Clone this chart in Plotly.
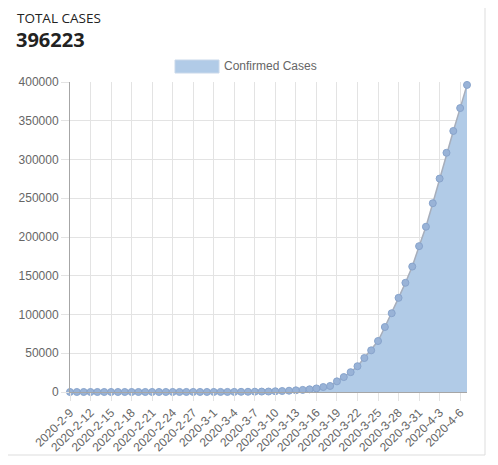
#########################################
# Total confirmed cases, cumulative area #
#########################################

import datetime as dt
import plotly.graph_objects as go

# dates shown on the category axis (2020-2-9 .. 2020-4-7)
start = dt.date(2020, 2, 9)
dates = []
for i in range(59):
    d = start + dt.timedelta(days=i)
    dates.append(f"{d.year}-{d.month}-{d.day}")

# cumulative confirmed cases
cases = [
    12, 12, 12, 13, 13, 14, 14, 14, 14, 14, 14, 14,          # 2-9 .. 2-20
    35, 35, 35, 53, 53, 59, 60, 62, 70,                      # 2-21 .. 2-29
    76, 101, 122, 153, 221, 278, 417, 537, 605, 959,         # 3-1 .. 3-10
    1281, 1663, 2179, 2726, 3499, 4632, 6421, 7783,          # 3-11 .. 3-18
    13747, 19273, 25600, 33276, 43847, 53740, 65778,         # 3-19 .. 3-25
    83836, 101657, 121465, 140909, 161831, 188172,           # 3-26 .. 3-31
    213242, 243622, 275367, 308650, 336802, 366317, 396223,  # 4-1 .. 4-7
]

y_ticks = [0, 50000, 100000, 150000, 200000, 250000, 300000, 350000, 400000]
total = cases[-1]

# page geometry (pixels in the window); the page body adds an 8px margin
OFF = 8
W, H = 498 - OFF, 465 - OFF
L, R, T, B = 70, 467, 82, 392

def px(x):
    return (x - L) / (R - L)

def py(y):
    return (B - y) / (B - T)

fig = go.Figure()
fig.add_trace(go.Scatter(
    x=dates, y=cases, mode='lines+markers',
    fill='tozeroy', fillcolor='#b1cbe7',
    line=dict(color='#a7aebb', width=1.5),
    marker=dict(size=7, color='#99b3d7', line=dict(color='#88a4cc', width=1)),
    cliponaxis=False, showlegend=False,
    hovertemplate='%{x}<br>%{y}<extra>Confirmed Cases</extra>'))

tick_font = dict(family='Liberation Sans, Arial', size=12, color='#666666')

fig.update_xaxes(
    type='category', range=[0, len(dates) - 1],
    tickvals=dates[::3], ticktext=dates[::3], tickangle=-45,
    tickfont=tick_font, showgrid=True, gridcolor='#e3e3e3', gridwidth=1,
    ticks='outside', ticklen=8, tickcolor='#e3e3e3',
    showline=True, linecolor='#a6a6a6', linewidth=1, zeroline=False)
fig.update_yaxes(
    range=[0, 400000], tickvals=y_ticks, tickformat='d',
    tickfont=tick_font, showgrid=True, gridcolor='#e3e3e3', gridwidth=1,
    ticks='outside', ticklen=8, tickcolor='#e3e3e3',
    showline=True, linecolor='#a6a6a6', linewidth=1, zeroline=False)

# card frame, header text and legend
fig.add_shape(type='rect', xref='paper', yref='paper',
              x0=px(5), x1=px(485), y0=py(455), y1=py(5),
              line=dict(color='#dddddd', width=1), layer='below')
fig.add_shape(type='rect', xref='paper', yref='paper',
              x0=px(175), x1=px(219), y0=py(73), y1=py(60),
              fillcolor='#b1cbe7', line=dict(color='#c9d8ea', width=1))
fig.add_annotation(xref='paper', yref='paper', x=px(15), y=py(18),
                   xanchor='left', yanchor='middle', showarrow=False,
                   text='TOTAL CASES',
                   font=dict(family='Open Sans', size=13.5, color='#222222'))
fig.add_annotation(xref='paper', yref='paper', x=px(14), y=py(40),
                   xanchor='left', yanchor='middle', showarrow=False,
                   text=f'<b>{total}</b>',
                   font=dict(family='Open Sans', size=20, color='#222222'))
fig.add_annotation(xref='paper', yref='paper', x=px(222), y=py(66),
                   xanchor='left', yanchor='middle', showarrow=False,
                   text='Confirmed Cases',
                   font=dict(family='Liberation Sans, Arial', size=12, color='#666666'))

fig.update_layout(
    width=W, height=H, autosize=False,
    margin=dict(l=L - OFF, r=W - (R - OFF), t=T - OFF, b=H - (B - OFF)),
    plot_bgcolor='white', paper_bgcolor='white')

fig.write_html("out.html")
